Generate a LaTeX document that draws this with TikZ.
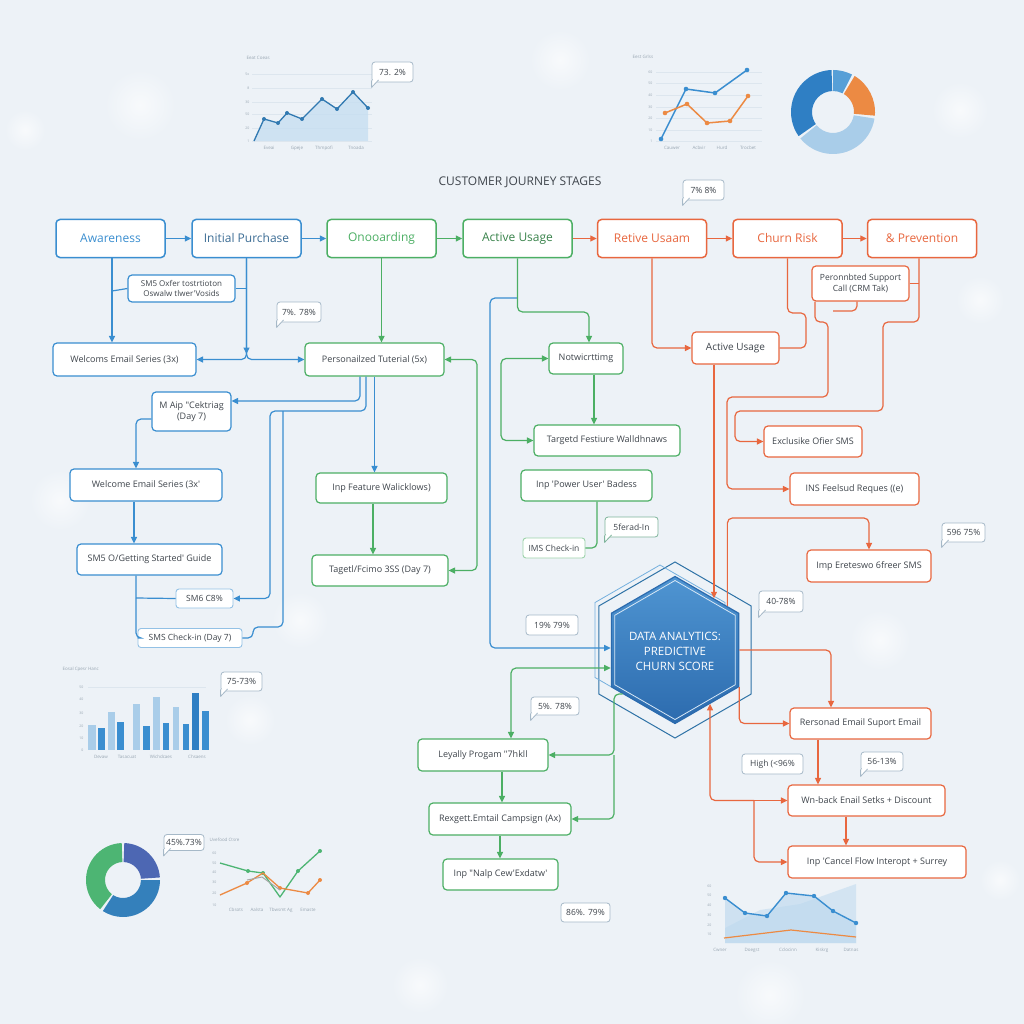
\documentclass[tikz,border=0pt]{standalone}
\usepackage{fontspec}
\setmainfont{Open Sans}[Ligatures=TeXOff]
\usetikzlibrary{arrows.meta,shapes.geometric,calc}
\definecolor{cblue}{HTML}{3A8ED0}
\definecolor{cgreen}{HTML}{4CAF64}
\definecolor{corange}{HTML}{E8673F}
\definecolor{tgray}{HTML}{3F454C}
\definecolor{cgrid}{HTML}{DDE6EE}
\definecolor{clab}{HTML}{98A6B2}
\definecolor{cbord}{HTML}{A6B9C8}
\definecolor{bgc}{HTML}{EDF2F7}
\definecolor{lblue}{HTML}{A9CDE9}
\definecolor{dblue}{HTML}{2F7FC4}
\definecolor{chorange}{HTML}{EC8A43}
\definecolor{chgreen}{HTML}{4DB573}
\definecolor{indigo}{HTML}{4D67B3}
\definecolor{hexlight}{HTML}{4F95D2}
\definecolor{hexdark}{HTML}{2C6BAE}
\newcommand{\dq}{\char34\relax}
\newcommand{\dseg}[7]{\fill[#7] (#1,#2) ++(#5:#4) arc[start angle=#5,end angle=#6,radius=#4] -- ($(#1,#2)+(#6:#3)$) arc[start angle=#6,end angle=#5,radius=#3] -- cycle;}
\newcommand{\ctail}[2][cbord]{\filldraw[draw=#1, fill=white, line width=0.8pt, line join=round] ([yshift=2pt]#2.south west) -- ++(0,7) -- ++(7,-7.5);}
\begin{document}
\begin{tikzpicture}[x=1pt,y=-1pt, >={Triangle[length=6.5pt,width=6pt]},
 box/.style={fill=white, rounded corners=4pt, line width=1.2pt, inner sep=2pt, align=center, text=tgray, font=\fontsize{9}{11}\selectfont},
 bbox/.style={box, draw=cblue},
 gbox/.style={box, draw=cgreen},
 obox/.style={box, draw=corange},
 stage/.style={line width=1.5pt, font=\fontsize{12}{14}\selectfont, minimum width=109pt, minimum height=38pt},
 wh/.style 2 args={minimum width=#1pt, minimum height=#2pt},
 sbox/.style={fill=white, rounded corners=3pt, line width=0.9pt, inner sep=1pt, text=tgray, font=\fontsize{8.5}{10}\selectfont},
 callout/.style={draw=cbord, fill=white, rounded corners=3pt, line width=0.8pt, inner sep=1pt, font=\fontsize{8.5}{10}\selectfont, text=tgray},
 bl/.style={draw=cblue, line width=1.2pt, rounded corners=5pt},
 gl/.style={draw=cgreen, line width=1.2pt, rounded corners=5pt},
 ol/.style={draw=corange, line width=1.2pt, rounded corners=5pt},
 ax/.style={font=\fontsize{3.5}{4}\selectfont, text=clab, inner sep=0.5pt},
 xl/.style={font=\fontsize{4.5}{5}\selectfont, text=clab, inner sep=0.5pt},
]
% ---------- background
\fill[bgc] (0,0) rectangle (1024,1024);
\useasboundingbox (0,0) rectangle (1024,1024);
\foreach \x/\y/\r in {140/105/35, 25/130/20, 960/110/28, 770/995/35, 420/985/28, 250/720/25, 1000/880/20, 60/500/30, 980/300/24, 560/60/30, 300/620/28, 880/640/30}
  {\shade[inner color=white!60!bgc, outer color=bgc] (\x,\y) circle (\r);}

% ---------- chart 1 (top left)
\foreach \yy/\t in {74/5x,88/8,102/30,114/50,128/20,141/1}
  {\draw[cgrid, line width=0.4pt] (252,\yy) -- (372,\yy); \node[ax, anchor=east] (ya\yy) at (250,\yy) {\t};}
\fill[cblue!30, opacity=0.75] (254,141) -- (264,119) -- (278,123) -- (287,113) -- (302,119) -- (322,99) -- (337,109) -- (353,92) -- (368,108) -- (368,141) -- cycle;
\draw[cblue!85!black, line width=1.3pt, line join=round] (254,141) -- (264,119) -- (278,123) -- (287,113) -- (302,119) -- (322,99) -- (337,109) -- (353,92) -- (368,108);
\foreach \p in {(264,119),(278,123),(287,113),(302,119),(322,99),(337,109),(353,92),(368,108)} \fill[cblue!85!black] \p circle (2);
\node[xl] (xa1) at (269,148) {Eveai};
\node[xl] (xa2) at (297,148) {Gpeje};
\node[xl] (xa3) at (324,148) {Thmpofi};
\node[xl] (xa4) at (356,148) {Tnoada};
\node[xl, anchor=west] (ta) at (246,58) {Eeat Coeas};

% ---------- chart 2 (top right)
\foreach \yy/\t in {72/60,83/50,95/40,107/30,118/20,130/10,141/1}
  {\draw[cgrid, line width=0.4pt] (656,\yy) -- (762,\yy); \node[ax, anchor=east] (yb\yy) at (653,\yy) {\t};}
\draw[cblue, line width=1.5pt, line join=round] (661,139) -- (686,89) -- (715,93) -- (747,70);
\foreach \p in {(661,139),(686,89),(715,93),(747,70)} \fill[cblue] \p circle (2.3);
\draw[chorange, line width=1.5pt, line join=round] (665,113) -- (687,104) -- (707,123) -- (730,121) -- (748,96);
\foreach \p in {(665,113),(687,104),(707,123),(730,121),(748,96)} \fill[chorange] \p circle (2.3);
\node[xl] (xb1) at (672,148) {Cauwer};
\node[xl] (xb2) at (699,148) {Acbvir};
\node[xl] (xb3) at (722,148) {Hurd};
\node[xl] (xb4) at (748,148) {Trocbet};
\node[xl, anchor=west] (tb) at (632,57) {Eest Grlss};
\dseg{833}{112}{21}{42}{-90}{-63}{cblue!85}
\dseg{833}{112}{21}{42}{-59}{5}{chorange}
\dseg{833}{112}{21}{42}{9}{141}{lblue}
\dseg{833}{112}{21}{42}{145}{268}{dblue}

% ---------- chart 3 (bars, bottom left)
\node[xl, anchor=west] (tc) at (62,669) {Eosal Cpesr Hanc};
\foreach \yy/\t in {687/50,699/40,713/30,726/20,738/10,750/0}
  {\node[ax, anchor=east] (yc\yy) at (84,\yy) {\t};}
\draw[cgrid, line width=0.5pt] (88,687) -- (206,687);
\foreach \a/\b/\t/\c in {88/96/725/lblue, 98/105/728/cblue, 108/115/712/lblue, 117/124/722/cblue, 133/140/704/lblue, 143/150/726/cblue, 153/160/697/lblue, 163/169/723/cblue, 173/179/707/lblue, 183/189/724/cblue, 192/199/693/dblue, 202/209/711/cblue}
  {\fill[\c] (\a,\t) rectangle (\b,750);}
\node[xl] (xc1) at (101,757) {Devaw};
\node[xl] (xc2) at (127,757) {Tasacuat};
\node[xl] (xc3) at (161,757) {Wichdcaes};
\node[xl] (xc4) at (197,757) {Chsaens};

% ---------- chart 4 (donut + lines, bottom left)
\dseg{123}{880}{18}{37}{-88}{-4}{indigo}
\dseg{123}{880}{18}{37}{0}{123}{cblue!90!black}
\dseg{123}{880}{18}{37}{128}{268}{chgreen}
\node[xl, anchor=west] (td4) at (209,840) {Uvefood Ctsre};
\foreach \yy/\t in {853/60,863/50,872/40,882/30,893/20,905/10}
  {\node[ax, anchor=east] (yd\yy) at (217,\yy) {\t};}
\draw[chgreen, line width=1.3pt, line join=round] (220,863) -- (248,871) -- (263,873) -- (280,897) -- (298,871) -- (320,851);
\foreach \p in {(248,871),(263,873),(298,871),(320,851)} \fill[chgreen] \p circle (2);
\draw[chorange, line width=1.3pt, line join=round] (220,895) -- (247,883) -- (263,873) -- (280,888) -- (308,893) -- (320,880);
\foreach \p in {(247,883),(280,888),(308,893),(320,880)} \fill[chorange] \p circle (2);
\draw[gray!70, line width=1pt] (247,880) -- (262,877) -- (280,890);
\node[xl] (xd1) at (236,910) {Cbsots};
\node[xl] (xd2) at (257,910) {Aalsta};
\node[xl] (xd3) at (281,910) {Tbwsmt Ag};
\node[xl] (xd4) at (308,910) {Emaste};

% ---------- chart 5 (bottom right)
\foreach \yy/\t in {886/60,895/50,905/40,915/30,925/20,934/10}
  {\node[ax, anchor=east] (ye\yy) at (712,\yy) {\t};}
\fill[lblue!70, opacity=0.6] (725,928) -- (760,910) -- (800,904) -- (856,884) -- (856,943) -- (725,943) -- cycle;
\fill[cblue!35, opacity=0.6] (725,898) -- (745,913) -- (767,916) -- (786,893) -- (814,896) -- (833,911) -- (856,923) -- (856,943) -- (725,943) -- cycle;
\draw[cblue, line width=1.4pt, line join=round] (725,898) -- (745,913) -- (767,916) -- (786,893) -- (814,896) -- (833,911) -- (856,923);
\foreach \p in {(725,898),(745,913),(767,916),(786,893),(814,896),(833,911),(856,923)} \fill[cblue] \p circle (2.2);
\draw[chorange, line width=1.2pt] (724,938) -- (791,930) -- (856,937);
\node[xl] (xe1) at (720,950) {Cwner};
\node[xl] (xe2) at (752,950) {Doegst};
\node[xl] (xe3) at (788,950) {Cclocinn};
\node[xl] (xe4) at (822,950) {Kiskrg};
\node[xl] (xe5) at (851,950) {Datnas};

% ---------- title
\node[font=\fontsize{12}{14}\selectfont, text=tgray] (title) at (520,182) {CUSTOMER JOURNEY STAGES};

% ---------- hexagon
\node[regular polygon, regular polygon sides=6, shape border rotate=30, minimum size=176pt, inner sep=0pt, draw=cblue!80!black, line width=1pt] (hexout) at (675,650) {};
\node[regular polygon, regular polygon sides=6, shape border rotate=30, minimum size=150pt, inner sep=0pt, draw=cblue!70, line width=0.8pt] (hexalt) at (660,640) {};
\node[regular polygon, regular polygon sides=6, shape border rotate=30, minimum size=147pt, inner sep=0pt, draw=hexdark, line width=1.2pt, top color=hexlight, bottom color=hexdark] (hex) at (675,650) {};
\node[regular polygon, regular polygon sides=6, shape border rotate=30, minimum size=139pt, inner sep=0pt, draw=white!80!cblue, line width=0.8pt] (hexin) at (675,650) {};
\node[font=\fontsize{11.5}{15}\selectfont, text=white, align=center] (hext) at (675,651) {DATA ANALYTICS:\\PREDICTIVE\\CHURN SCORE};

% ---------- stage row
\node[bbox, stage, text=cblue] (aw) at (110.5,238.5) {Awareness};
\node[bbox, stage, text=cblue!55!tgray] (ip) at (246.5,238.5) {Initial Purchase};
\node[gbox, stage, text=cgreen] (onb) at (381.5,238.5) {Onooarding};
\node[gbox, stage, text=cgreen!75!black] (au) at (517.5,238.5) {Active Usage};
\node[obox, stage, text=corange] (ru) at (652,238.5) {Retive Usaam};
\node[obox, stage, text=corange] (cr) at (787.5,238.5) {Churn Risk};
\node[obox, stage, text=corange] (pv) at (922,238.5) {\& Prevention};

% ---------- blue nodes
\node[bbox, wh={107}{27}, font=\fontsize{8}{10}\selectfont] (sms1) at (181.5,288.5) {SM5 Oxfer tostrtioton\\Oswalw tlwer'Vosids};
\node[bbox, wh={143}{33}] (wes) at (124.5,359.5) {Welcoms Email Series (3x)};
\node[bbox, wh={79}{39}] (mai) at (191.5,411.5) {M Aip \dq Cektriag\\(Day 7)};
\node[bbox, wh={152}{32}] (wes2) at (146,485) {Welcome Email Series (3x'};
\node[bbox, wh={145}{31}] (sm5) at (149.5,559.5) {SM5 O/Getting Started' Guide};
\node[sbox, draw=cblue!55, wh={57}{19}] (sm6) at (204.5,598.5) {SM6 C8\%};
\node[sbox, draw=cblue!55, wh={104}{19}] (smsci) at (190,638) {SMS Check-in (Day 7)};

% ---------- green nodes
\node[gbox, wh={139}{33}] (pt) at (374.5,359.5) {Personailzed Tuterial (5x)};
\node[gbox, wh={131}{30}] (ifw) at (381.5,488) {Inp Feature Walicklows)};
\node[gbox, wh={136}{31}] (tg) at (380,570.5) {Tagetl/Fcimo 3SS (Day 7)};
\node[gbox, wh={74}{31}] (nw) at (586,358.5) {Notwicrttimg};
\node[gbox, wh={146}{31}] (td) at (607,440.5) {Targetd Festiure Walldhnaws};
\node[gbox, wh={131}{31}] (pub) at (586.5,485.5) {Inp 'Power User' Badess};
\node[sbox, draw=cgreen!55, wh={62}{20}] (smci) at (554,548) {IMS Check-in};
\node[gbox, wh={130}{32}] (ly) at (483,755) {Leyally Progam \dq 7hkll};
\node[gbox, wh={142}{32}] (rx) at (500,819) {Rexgett.Emtail Campsign (Ax)};
\node[gbox, wh={115}{31}] (inpn) at (500.5,874.5) {Inp \dq Nalp Cew'Exdatw'};

% ---------- orange nodes
\node[obox, wh={87}{32}, font=\fontsize{10}{12}\selectfont] (au2) at (735.5,348) {Active Usage};
\node[obox, wh={97}{35}, font=\fontsize{8.5}{10.5}\selectfont] (psc) at (860.5,283.5) {Peronnbted Support\\Call (CRM Tak)};
\node[obox, wh={98}{31}] (exo) at (813,441.5) {Exclusike Ofier SMS};
\node[obox, wh={129}{32}] (ins) at (854.5,489) {INS Feelsud Reques ((e)};
\node[obox, wh={124}{32}] (ier) at (869,566) {Imp Ereteswo 6freer SMS};
\node[obox, wh={141}{31}] (rse) at (860.5,723.5) {Rersonad Email Suport Email};
\node[obox, wh={157}{31}] (wn) at (866.5,800.5) {Wn-back Enail Setks + Discount};
\node[obox, wh={178}{32}] (icf) at (877,862) {Inp 'Cancel Flow Interopt + Surrey};

% ---------- connectors: top row
\draw[bl,->] (aw) -- (ip);
\draw[bl,->] (ip) -- (onb);
\draw[gl,->] (onb) -- (au);
\draw[ol,->] (au) -- (ru);
\draw[ol,->] (ru) -- (cr);
\draw[ol,->] (cr) -- (pv);

% ---------- blue connectors
\coordinate (j1) at (112,291);
\draw[bl,->] (aw.south -| j1) -- (wes.north -| j1);
\draw[bl] (j1) -- (sms1.west);
\draw[bl] (sms1.east) -- (sms1.east -| ip.south);
\draw[bl,->] (ip.south) |- (wes.east);
\draw[bl,->] (ip.south) |- (pt.west);
\coordinate (j0) at (246.5,354);
\draw[bl,->] (ip.south) -- (j0);
\coordinate (j3) at (360,401);
\draw[bl,->] (pt.south -| j3) |- (mai.east |- j3);
\coordinate (j4) at (366,411); \coordinate (j5) at (270,411); \coordinate (j6) at (283,411);
\draw[bl,->] (pt.south -| j4) |- (j5) |- (sm6.east);
\coordinate (j6b) at (283,627); \coordinate (j6c) at (253,627);
\draw[bl] (j6) -- (j6b) -- (j6c) |- (smsci.east);
\draw[bl,->] (pt.south) -- (pt.south |- ifw.north);
\coordinate (j7) at (136,419);
\draw[bl,->] (mai.west |- j7) -| (wes2.north -| j7);
\coordinate (j8) at (134,0);
\draw[bl,->] (wes2.south -| j8) -- (sm5.north -| j8);
\coordinate (j9) at (136,598);
\draw[bl] (sm5.south -| j9) |- (smsci.west);
\draw[bl] (j9) -- (sm6.west);
\coordinate (j10) at (517,298); \coordinate (j11) at (490,298);
\draw[bl,->] (j10) -- (j11) |- ([yshift=2pt]hex.west);

% ---------- green connectors
\draw[gl,->] (onb.south) -- (onb.south |- pt.north);
\coordinate (k1) at (589,312);
\draw[gl,->] (au.south) |- (k1) -- (k1 |- nw.north);
\coordinate (k2) at (594,0);
\draw[gl,->] (nw.south -| k2) -- (td.north -| k2);
\coordinate (k3) at (501,400);
\draw[gl,<->] (nw.west) -| (k3) |- (td.west);
\coordinate (k4) at (597,0);
\draw[gl] (pub.south -| k4) |- (smci.east);
\coordinate (k5) at (373,0);
\draw[gl,->] (ifw.south -| k5) -- (tg.north -| k5);
\coordinate (k6) at (477,450);
\draw[gl,<->] (pt.east) -| (k6) |- (tg.east);
\coordinate (k7) at (511,0);
\draw[gl,<->] ([yshift=-18pt]hex.west) -| (ly.north -| k7);
\coordinate (k8) at (502,0);
\draw[gl,->] (ly.south -| k8) -- (rx.north -| k8);
\draw[gl,->] (rx.south) -- (rx.south |- inpn.north);
\coordinate (k9) at (614,755);
\draw[gl,->] (hex.-140) -| (k9) -- (ly.east);
\draw[gl,->] (k9) |- (rx.east);

% ---------- orange connectors
\draw[ol,->] (ru.south) |- (au2.west);
\coordinate (m1) at (806,313);
\draw[ol] (cr.south) |- (m1) |- (au2.east);
\coordinate (m2) at (919,322); \coordinate (m3) at (883,322); \coordinate (m4) at (735,411);
\draw[ol,->] (pv.south -| m2) -- (m2) -- (m3) |- (m4) |- (exo.west);
\draw[ol] (psc.east) -- (psc.east -| m2);
\coordinate (m5) at (815,0); \coordinate (m6) at (828,322); \coordinate (m7) at (727,397);
\draw[ol,->] (psc.south -| m5) |- (m6) |- (m7) |- (ins.west);
\coordinate (m8) at (833,311); \coordinate (m8b) at (857,0);
\draw[ol] (m8) -| (psc.south -| m8b);
\coordinate (m9) at (714,0);
\draw[ol,->] (au2.south -| m9) -- (hex.53 -| m9);
\coordinate (m10) at (727,518);
\draw[ol,->] (hex.40) -- (hex.40 |- m10) -| (ier.north);
\coordinate (m11) at (831,0);
\draw[ol,->] (hex.east) -| (rse.north -| m11);
\draw[ol,->] (hex.-30) |- (rse.west);
\coordinate (m12) at (818,0);
\draw[ol,->] (rse.south -| m12) -- (wn.north -| m12);
\coordinate (m13) at (846,0);
\draw[ol,->] (wn.south -| m13) -- (icf.north -| m13);
\coordinate (m14) at (754,800.5);
\draw[ol,->] (m14) -- (wn.west);
\draw[ol,->] (m14) |- (icf.west);
\draw[ol,->] (m14) -- (m14 -| hex.-57) -- (hex.-57);

% ---------- callouts
\node[callout, wh={41}{20}] (c1) at (392.5,72) {73. 2\%}; \ctail{c1}
\node[callout, wh={41}{20}] (c2) at (703.5,190) {7\% 8\%}; \ctail{c2}
\node[callout, wh={44}{20}] (c3) at (299,312) {7\%. 78\%}; \ctail{c3}
\node[callout, draw=cgreen!45!cbord, wh={53}{20}] (c4) at (631.5,527) {5ferad-In}; \ctail[cgreen!45!cbord]{c4}
\node[callout, wh={43}{19}] (c5) at (963.5,532.5) {596 75\%}; \ctail{c5}
\node[callout, wh={44}{21}] (c6) at (781,601.5) {40-78\%}; \ctail{c6}
\node[callout, wh={52}{20}] (c7) at (552,625) {19\% 79\%};
\node[callout, wh={48}{18}] (c8) at (555,706) {5\%. 78\%}; \ctail{c8}
\node[callout, wh={49}{19}] (c9) at (585.5,912.5) {86\%. 79\%};
\node[callout, wh={61}{20}] (c10) at (772.5,764) {High (<96\%};
\node[callout, wh={42}{19}] (c11) at (882,761.5) {56-13\%}; \ctail{c11}
\node[callout, wh={41}{19}] (c12) at (241.5,681.5) {75-73\%}; \ctail{c12}
\node[callout, wh={40}{16}] (c13) at (184,842.5) {45\%.73\%}; \ctail{c13}
\end{tikzpicture}
\end{document}
